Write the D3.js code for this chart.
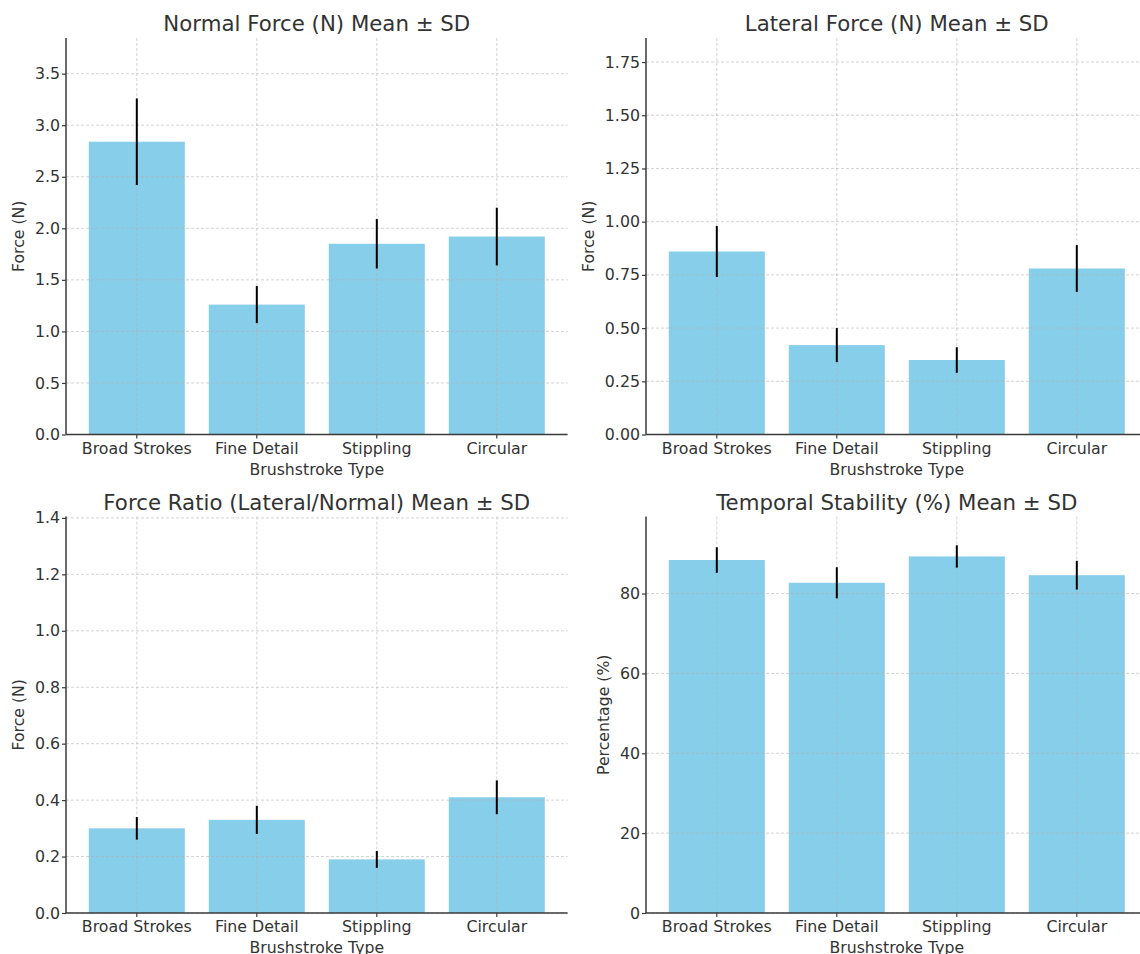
<!DOCTYPE html>
<html>
<head>
<meta charset="utf-8">
<script src="https://cdn.jsdelivr.net/npm/d3@7.9.0/dist/d3.min.js"></script>
<style>
  html, body { margin: 0; padding: 0; background: #fff; overflow: hidden; }
  svg { display: block; font-family: "DejaVu Sans", sans-serif; }
</style>
</head>
<body>
<svg id="chart" width="1140" height="954"></svg>
<script>
// brushstroke types shared by all four panels
const categories = ["Broad Strokes", "Fine Detail", "Stippling", "Circular"];

// values
const normalMean = [2.84, 1.26, 1.85, 1.92];
const normalSd = [0.42, 0.18, 0.24, 0.28];
const lateralMean = [0.86, 0.42, 0.35, 0.78];
const lateralSd = [0.12, 0.08, 0.06, 0.11];
const ratioMean = [0.30, 0.33, 0.19, 0.41];
const ratioSd = [0.04, 0.05, 0.03, 0.06];
const stabilityMean = [88.4, 82.7, 89.3, 84.6];
const stabilitySd = [3.2, 3.9, 2.8, 3.6];

// y ticks and upper limits
const normalTicks = [0, 0.5, 1.0, 1.5, 2.0, 2.5, 3.0, 3.5];
const lateralTicks = [0, 0.25, 0.5, 0.75, 1.0, 1.25, 1.5, 1.75];
const ratioTicks = [0, 0.2, 0.4, 0.6, 0.8, 1.0, 1.2, 1.4];
const stabilityTicks = [0, 20, 40, 60, 80];
const yMax = [3.846, 1.863, 1.405, 99.3];

const svg = d3.select("#chart");
const panelW = 501.6, panelH = 396.5;
const textColor = "#333";
const fontFamily = '"DejaVu Sans", sans-serif';

function drawPanel(p) {
    let g = svg.append("g").attr("transform", `translate(${p.left},${p.top})`);

    let x = d3.scaleBand().domain(categories).range([0, panelW])
        .paddingInner(0.2).paddingOuter(0.19);
    let y = d3.scaleLinear().domain([0, p.max]).range([panelH, 0]);

    let data = categories.map((c, i) => ({ cat: c, mean: p.mean[i], sd: p.sd[i] }));

    // bars
    g.selectAll("rect.bar").data(data).join("rect")
        .attr("class", "bar")
        .attr("x", d => x(d.cat))
        .attr("width", x.bandwidth())
        .attr("y", d => y(d.mean))
        .attr("height", d => y(0) - y(d.mean))
        .attr("fill", "#87ceeb");

    // grid on top of the bars
    let grid = g.append("g")
        .attr("stroke", "#b0b0b0").attr("stroke-opacity", 0.7)
        .attr("stroke-width", 0.8).attr("stroke-dasharray", "3,2");
    grid.selectAll("line.h").data(p.ticks).join("line")
        .attr("x1", 0).attr("x2", panelW)
        .attr("y1", d => y(d)).attr("y2", d => y(d));
    grid.selectAll("line.v").data(categories).join("line")
        .attr("x1", d => x(d) + x.bandwidth() / 2).attr("x2", d => x(d) + x.bandwidth() / 2)
        .attr("y1", 0).attr("y2", panelH);

    // error bars
    g.selectAll("line.err").data(data).join("line")
        .attr("class", "err")
        .attr("x1", d => x(d.cat) + x.bandwidth() / 2)
        .attr("x2", d => x(d.cat) + x.bandwidth() / 2)
        .attr("y1", d => y(d.mean - d.sd))
        .attr("y2", d => y(d.mean + d.sd))
        .attr("stroke", "#000").attr("stroke-width", 2);

    // axes
    let xAxis = g.append("g").attr("transform", `translate(0,${panelH})`)
        .call(d3.axisBottom(x).tickSize(4).tickPadding(3));
    let yAxis = g.append("g")
        .call(d3.axisLeft(y).tickValues(p.ticks).tickFormat(d3.format(p.fmt)).tickSize(4).tickPadding(2));

    [xAxis, yAxis].forEach(a => {
        a.attr("font-family", fontFamily).attr("font-size", null);
        a.select(".domain").attr("stroke", "#3a3a3a").attr("stroke-width", 1.5);
        a.selectAll(".tick line").attr("stroke", "#3a3a3a").attr("stroke-width", 1.2);
        a.selectAll("text").attr("fill", textColor).style("font-size", "15.8px");
    });
    xAxis.select(".domain").attr("d", `M0,0H${panelW}`);
    yAxis.select(".domain").attr("d", `M0,0V${panelH}`);
    xAxis.selectAll(".tick text").attr("dy", null).attr("y", 19);

    // y label positioned left of the widest tick label
    let minX = 0;
    yAxis.selectAll(".tick text").each(function () {
        minX = Math.min(minX, this.getBBox().x);
    });
    g.append("text")
        .attr("transform", `translate(${minX - 10.5},${panelH / 2}) rotate(-90)`)
        .attr("text-anchor", "middle")
        .attr("fill", textColor).style("font-size", "15.7px")
        .text(p.ylabel);

    g.append("text")
        .attr("x", panelW / 2).attr("y", panelH + 40)
        .attr("text-anchor", "middle")
        .attr("fill", textColor).style("font-size", "15.7px")
        .text("Brushstroke Type");

    g.append("text")
        .attr("x", panelW / 2).attr("y", -7)
        .attr("text-anchor", "middle")
        .attr("fill", textColor).style("font-size", "21.3px")
        .text(p.title);
}

drawPanel({ left: 66, top: 38, mean: normalMean, sd: normalSd, ticks: normalTicks, max: yMax[0],
    fmt: ".1f", title: "Normal Force (N) Mean ± SD", ylabel: "Force (N)" });
drawPanel({ left: 646, top: 38, mean: lateralMean, sd: lateralSd, ticks: lateralTicks, max: yMax[1],
    fmt: ".2f", title: "Lateral Force (N) Mean ± SD", ylabel: "Force (N)" });
drawPanel({ left: 66, top: 516.5, mean: ratioMean, sd: ratioSd, ticks: ratioTicks, max: yMax[2],
    fmt: ".1f", title: "Force Ratio (Lateral/Normal) Mean ± SD", ylabel: "Force (N)" });
drawPanel({ left: 646, top: 516.5, mean: stabilityMean, sd: stabilitySd, ticks: stabilityTicks, max: yMax[3],
    fmt: "d", title: "Temporal Stability (%) Mean ± SD", ylabel: "Percentage (%)" });
</script>
</body>
</html>
